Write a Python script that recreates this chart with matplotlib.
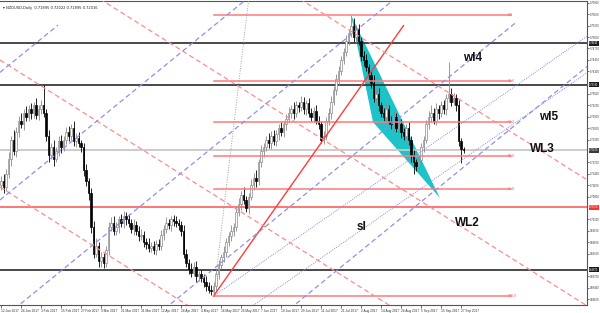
import matplotlib
matplotlib.use("Agg")
import matplotlib.pyplot as plt
import matplotlib.transforms as mtransforms
from matplotlib.patches import Rectangle, Polygon
import numpy as np

# ---------------- data ----------------
date_labels = ["12 Jan 2017", "24 Jan 2017", "3 Feb 2017", "15 Feb 2017", "27 Feb 2017",
               "9 Mar 2017", "21 Mar 2017", "31 Mar 2017", "12 Apr 2017", "24 Apr 2017",
               "4 May 2017", "16 May 2017", "26 May 2017", "7 Jun 2017", "19 Jun 2017",
               "29 Jun 2017", "11 Jul 2017", "21 Jul 2017", "2 Aug 2017", "14 Aug 2017",
               "24 Aug 2017", "5 Sep 2017", "15 Sep 2017", "27 Sep 2017"]
label_every = 8  # bars between date labels

first_open = 7110
closes = [
    7120, 7105, 7140, 7180, 7230, 7200, 7250, 7280, 7270, 7300,
    7290, 7310, 7300, 7320, 7295, 7310, 7320, 7300, 7240, 7190,
    7210, 7180, 7200, 7225, 7210, 7230, 7250, 7240, 7260, 7225,
    7235, 7220, 7210, 7150, 7120, 7090, 7000, 6930, 6950, 6910,
    6920, 6905, 6940, 7000, 7010, 6990, 7000, 7020, 7010, 7030,
    7020, 7010, 6995, 7005, 6990, 6975, 6980, 6960, 6955, 6945,
    6950, 6940, 6955, 6950, 6980, 6995, 7010, 7005, 7020, 7015,
    7010, 7005, 6990, 6930, 6905, 6890, 6880, 6895, 6870, 6875,
    6865, 6855, 6845, 6835, 6830, 6845, 6875, 6900, 6920, 6935,
    6960, 6975, 6990, 7000, 7040, 7060, 7085, 7070, 7050, 7080,
    7110, 7130, 7120, 7170, 7200, 7210, 7230, 7220, 7240, 7225,
    7245, 7260, 7250, 7270, 7285, 7300, 7310, 7300, 7320, 7315,
    7330, 7310, 7325, 7300, 7290, 7305, 7280, 7270, 7230, 7240,
    7280, 7300, 7330, 7360, 7390, 7410, 7440, 7460, 7490, 7510,
    7530, 7500, 7520, 7490, 7450, 7440, 7420, 7400, 7380, 7340,
    7350, 7320, 7300, 7290, 7310, 7280, 7270, 7290, 7260, 7270,
    7250, 7240, 7260, 7230, 7190, 7170, 7160, 7175, 7210, 7230,
    7270, 7290, 7300, 7280, 7310, 7300, 7320, 7310, 7340, 7350,
    7330, 7340, 7320, 7225, 7205, 7202]
upper_wick = [
    15, 20, 12, 18, 10, 25, 14, 12, 20, 10,
    18, 12, 15, 10, 20, 12, 15, 54, 10, 15,
    12, 18, 10, 14, 16, 10, 12, 15, 10, 18,
    12, 15, 10, 12, 15, 10, 12, 15, 20, 10,
    15, 12, 10, 12, 15, 20, 12, 10, 15, 12,
    10, 14, 12, 15, 10, 12, 15, 10, 12, 15,
    10, 12, 10, 14, 12, 10, 15, 12, 10, 12,
    15, 12, 10, 15, 12, 10, 14, 12, 15, 10,
    12, 10, 15, 10, 12, 10, 15, 12, 10, 14,
    10, 12, 15, 10, 12, 15, 10, 20, 12, 10,
    15, 12, 20, 10, 15, 12, 10, 18, 12, 15,
    10, 12, 15, 10, 12, 15, 10, 18, 12, 10,
    15, 12, 10, 14, 12, 10, 15, 12, 10, 12,
    10, 12, 15, 10, 12, 15, 10, 12, 15, 10,
    28, 20, 12, 15, 10, 12, 15, 10, 12, 20,
    12, 15, 10, 12, 15, 10, 12, 15, 10, 12,
    15, 10, 12, 15, 10, 12, 10, 14, 12, 10,
    12, 15, 20, 12, 15, 10, 12, 15, 10, 84,
    15, 12, 10, 15, 10, 5]
lower_wick = [
    12, 15, 10, 12, 20, 10, 15, 12, 10, 14,
    12, 10, 15, 12, 10, 14, 12, 10, 15, 20,
    12, 20, 10, 12, 15, 10, 12, 14, 10, 12,
    15, 10, 12, 15, 12, 20, 15, 12, 10, 15,
    15, 12, 10, 15, 12, 10, 12, 15, 10, 12,
    14, 10, 12, 15, 10, 12, 10, 14, 12, 10,
    12, 10, 15, 12, 10, 14, 12, 10, 15, 12,
    10, 12, 15, 12, 10, 15, 12, 10, 14, 12,
    10, 12, 15, 10, 8, 12, 15, 12, 10, 12,
    15, 10, 12, 14, 10, 12, 15, 10, 12, 15,
    10, 12, 15, 10, 12, 15, 10, 12, 15, 10,
    12, 15, 10, 12, 14, 10, 12, 15, 10, 12,
    10, 12, 15, 10, 12, 15, 10, 12, 9, 12,
    10, 12, 15, 10, 12, 15, 10, 12, 10, 12,
    10, 12, 15, 10, 12, 15, 10, 12, 15, 10,
    12, 15, 10, 12, 14, 10, 12, 15, 10, 12,
    15, 10, 12, 15, 20, 30, 12, 10, 15, 12,
    10, 12, 15, 10, 12, 15, 10, 12, 15, 10,
    12, 10, 15, 12, 37, 8]

# horizontal levels
black_levels = [0.7484, 0.7374, 0.6887]
red_level = 0.7052
current_price = 0.7202

# fibonacci retracement (anchors: bar, price)
fib_low = (85, 0.6818)
fib_high = (140, 0.7558)
fib_end_bar = 204
fib_ratios = [0.0, 0.236, 0.382, 0.5, 0.618, 1.0]
fib_names = ["0.0", "23.6", "38.2", "50.0", "61.8", "100.0"]

# trend line and dotted line (bar, price) anchors
trend_line = [(85, 0.6818), (161, 0.7530)]
dotted_grey = [(85, 0.6818), (99, 0.7595)]
cyan_triangle = [(140, 0.7558), (148.8, 0.7276), (175.6, 0.7076)]

# descending (red dashed) parallels: start price at left edge, slope per bar
red_slope = -0.0004147
red_starts = [0.71051, 0.74395, 0.77660, 0.80978]
# ascending (blue dashed) parallels: (start bar, start price, end bar)
blue_slope = 0.0005365
blue_lines = [(-0.4, 0.74069, 22.8), (-0.4, 0.70709, 100), (-0.4, 0.67533, 160),
              (-0.4, 0.64311, 205.6), (-0.4, 0.61625, 234.4)]
# dotted blue lines (two anchor points each)
blue_dotted = [[(85, 0.6818), (234.4, 0.7502)], [(101, 0.6794), (234.4, 0.7406)]]

labels_text = ["wl4", "wl5", "WL3", "WL2", "sl"]
labels_pos = [(188.8, 0.7445), (219.2, 0.7289), (216.4, 0.7205), (186.4, 0.7010), (144.4, 0.6999)]

# ---------------- figure ----------------
plt.rcParams['font.family'] = ['Liberation Sans', 'DejaVu Sans']
fig = plt.figure(figsize=(6.0, 3.13), dpi=100)
ax = fig.add_axes([0.0, 8/313, 587/600, 304/313])
XMIN, XMAX = -0.4, 234.4
YMIN, YMAX = 0.679443, 0.759486
ax.set_xlim(XMIN, XMAX)
ax.set_ylim(YMIN, YMAX)

n = len(closes)
c = np.array(closes) / 1e4
o = np.concatenate([[first_open], closes[:-1]]) / 1e4
hi = np.maximum(o, c) + np.array(upper_wick) / 1e4
lo = np.minimum(o, c) - np.array(lower_wick) / 1e4

for k in range(n):
    bull = c[k] >= o[k]
    col = '#8a8a8a' if bull else '#000000'
    ax.plot([k, k], [lo[k], hi[k]], color=col, lw=0.6, zorder=3, solid_capstyle='butt')
    b0 = min(o[k], c[k]); bh = max(abs(c[k] - o[k]), 0.00008)
    ax.add_patch(Rectangle((k - 0.32, b0), 0.64, bh,
                           facecolor='white' if bull else '#000000',
                           edgecolor=col, lw=0.5, zorder=3.1))

# cyan triangle
ax.add_patch(Polygon(cyan_triangle, closed=True, facecolor='#1ec3c8', edgecolor='none', zorder=2))

# horizontal lines
for lv in black_levels:
    ax.axhline(lv, color='#3a3a3a', lw=1.3, zorder=2.5)
ax.axhline(current_price, color='#c8c8c8', lw=1.3, zorder=2.5)
ax.axhline(red_level, color='#ff6a6a', lw=1.3, zorder=2.5)

# fib levels
rng = fib_high[1] - fib_low[1]
for r, nm in zip(fib_ratios, fib_names):
    lv = fib_high[1] - r * rng
    ax.plot([fib_low[0], fib_end_bar], [lv, lv], color='#ff7a7a', lw=1.1, zorder=4)
    ax.text(fib_end_bar - 1.2, lv, nm, color='#ff5a5a', fontsize=2.6, ha='left', va='center', zorder=5)

# trendline + dotted
ax.plot(*zip(*trend_line), color='#ff3c3c', lw=1.0, zorder=4)
ax.plot(*zip(*dotted_grey), color='#a0a0a0', lw=0.7, ls=(0, (1, 1.5)), zorder=4)

# red dashed parallels
for p0 in red_starts:
    ax.plot([XMIN, XMAX], [p0, p0 + red_slope * (XMAX - XMIN)], color='#ff8c8c',
            lw=0.9, ls=(0, (4, 2.5)), zorder=4)
# blue dashed parallels
for k0, p0, k1 in blue_lines:
    ax.plot([k0, k1], [p0, p0 + blue_slope * (k1 - k0)], color='#9090e6',
            lw=0.9, ls=(0, (4, 2.5)), zorder=4)
for seg in blue_dotted:
    ax.plot(*zip(*seg), color='#8c8ce6', lw=0.7, ls=(0, (1, 1.2)), zorder=4)

for t, (xk, yp) in zip(labels_text, labels_pos):
    ax.text(xk, yp, t, fontsize=8.5, fontweight='bold', ha='center', va='center', color='#111111', zorder=6)

# axes styling
ax.spines['left'].set_visible(False)
for s in ['top', 'right', 'bottom']:
    ax.spines[s].set_color('#555555')
    ax.spines[s].set_linewidth(0.8)

box_levels = black_levels + [current_price, red_level]
yt_all = [0.7590 - 0.003 * i for i in range(27)]
yt = [v for v in yt_all if min(abs(v - b) for b in box_levels) > 0.0013]
ax.yaxis.tick_right()
ax.set_yticks(yt)
ax.set_yticklabels([f"{v:.5f}" for v in yt])
ax.tick_params(axis='y', labelsize=1.9, length=1.5, width=0.5, pad=0.5, colors='#333333')
xt = [i * label_every for i in range(len(date_labels))]
ax.set_xticks(xt)
ax.set_xticklabels(date_labels, ha='left')
ax.tick_params(axis='x', labelsize=2.3, length=2, width=0.5, pad=1.0, colors='#333333')

trans = mtransforms.blended_transform_factory(ax.transAxes, ax.transData)
box_specs = [(lv, '#1a1a1a') for lv in black_levels] + [(current_price, '#3a3a3a'), (red_level, '#ff3030')]
for lv, fc in box_specs:
    ax.text(1.0035, lv, f"{lv:.5f}", transform=trans, fontsize=1.8, color='white', ha='left', va='center',
            bbox=dict(boxstyle='square,pad=0.2', fc=fc, ec='none'), clip_on=False, zorder=7)

ax.text(0.005, 0.985, "\u25BE NZDUSD,Daily  0.71895 0.72022 0.71895 0.72016", transform=ax.transAxes,
        fontsize=2.6, color='#222222', ha='left', va='top', family=['DejaVu Sans'])

fig.savefig("out.png", dpi=100)
